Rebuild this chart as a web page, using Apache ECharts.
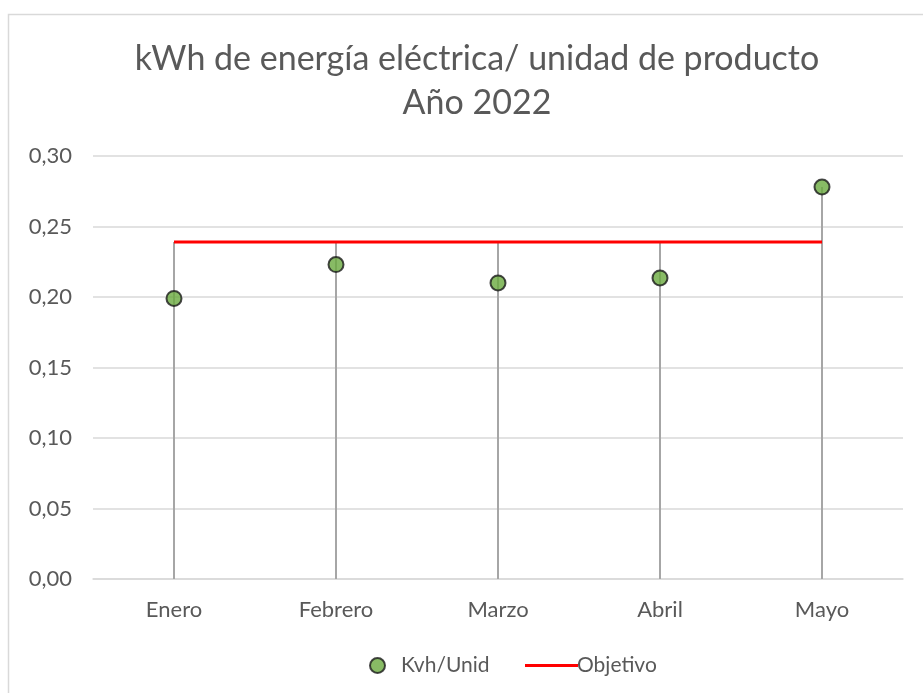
<!DOCTYPE html>
<html><head><meta charset="utf-8">
<script src="https://cdn.jsdelivr.net/npm/echarts@6/dist/echarts.min.js"></script>
<style>html,body{margin:0;padding:0;background:#fff}#c{width:923px;height:693px}</style>
</head><body><div id="c"></div>
<script>
const categories = ['Enero', 'Febrero', 'Marzo', 'Abril', 'Mayo'];
const kvhUnid = [0.199, 0.223, 0.210, 0.2135, 0.278];
const objetivo = [0.239, 0.239, 0.239, 0.239, 0.239];
const yTicks = { min: 0, max: 0.30, interval: 0.05 };

const dropTop = kvhUnid.map((v, i) => Math.max(v, objetivo[i]));
const FONT = 'Lato';
const TXT = '#595959';

const chart = echarts.init(document.getElementById('c'), null, { renderer: 'canvas' });
chart.setOption({
  animation: false,
  backgroundColor: '#fff',
  textStyle: { fontFamily: FONT },
  graphic: [{
    type: 'rect', left: 6, top: 12, silent: true, z: -10,
    shape: { width: 940, height: 700 },
    style: { fill: 'none', stroke: '#d9d9d9', lineWidth: 1.5 }
  }],
  title: {
    text: 'kWh de energía eléctrica/ unidad de producto\nAño 2022',
    left: 472, top: 32, textAlign: 'center',
    textStyle: { fontFamily: FONT, fontSize: 34, fontWeight: 'normal', color: TXT, lineHeight: 44 }
  },
  legend: [{
    data: ['Kvh/Unid'], left: 364, top: 650, itemWidth: 15, itemHeight: 15,
    textStyle: { fontFamily: FONT, fontSize: 21, color: TXT, padding: [0, 0, 0, 11] }
  }, {
    data: [{ name: 'Objetivo', icon: 'rect' }], left: 520, top: 650, itemWidth: 53, itemHeight: 3,
    textStyle: { fontFamily: FONT, fontSize: 21, color: TXT, padding: [0, 0, 0, -6] }
  }],
  grid: { left: 93, right: 20, top: 156, bottom: 114, containLabel: false },
  xAxis: {
    type: 'category', data: categories, boundaryGap: true,
    axisLine: { lineStyle: { color: '#d9d9d9', width: 1.5 } },
    axisTick: { show: false },
    axisLabel: { color: TXT, fontSize: 22, fontFamily: FONT, margin: 20 },
    splitLine: { show: false }
  },
  yAxis: {
    type: 'value', min: yTicks.min, max: yTicks.max, interval: yTicks.interval,
    axisLine: { show: false }, axisTick: { show: false },
    axisLabel: { color: TXT, fontSize: 22, fontFamily: FONT, margin: 21,
      formatter: v => v.toFixed(2).replace('.', ',') },
    splitLine: { lineStyle: { color: '#d9d9d9', width: 1.5 } }
  },
  series: [{
    name: 'drop', type: 'bar', data: dropTop, barWidth: 2, silent: true,
    itemStyle: { color: '#a6a6a6' }, z: 1, legendHoverLink: false
  }, {
    name: 'Objetivo', type: 'line', data: objetivo, symbol: 'none', z: 2,
    lineStyle: { color: '#ff0000', width: 3 }, itemStyle: { color: '#ff0000' }
  }, {
    name: 'Kvh/Unid', type: 'scatter', data: kvhUnid, symbol: 'circle', symbolSize: 15, z: 3,
    itemStyle: { color: '#6aaa3f', borderColor: '#1a1a1a', borderWidth: 2 }
  }]
});
</script></body></html>
